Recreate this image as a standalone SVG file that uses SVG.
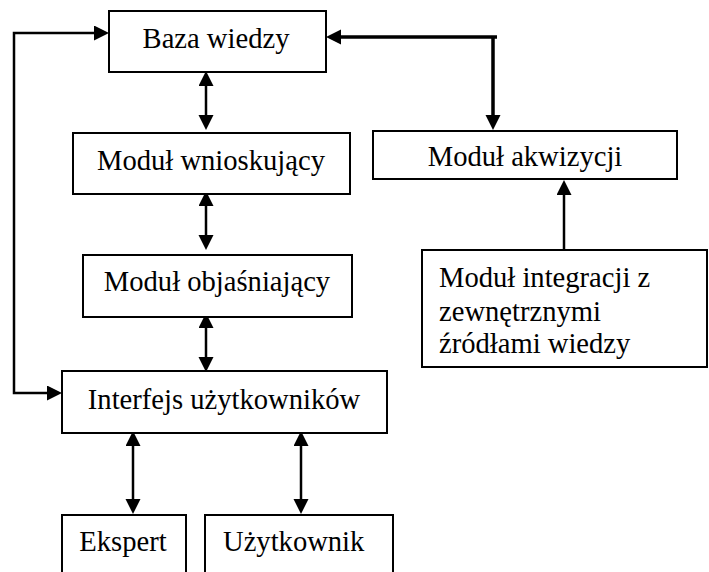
<svg xmlns="http://www.w3.org/2000/svg" width="709" height="572" viewBox="0 0 709 572">
<style>
  .box { fill: #fff; stroke: #000; stroke-width: 2; }
  text { font-family: "Liberation Serif", "Times New Roman", serif; font-size: 28.6px; fill: #000; }
  .c { text-anchor: middle; }
  .ln { fill: none; stroke: #000; stroke-width: 2.5; }
  .thick { fill: none; stroke: #000; stroke-width: 3.5; }
</style>
<defs>
  <marker id="ah" markerUnits="userSpaceOnUse" markerWidth="16" markerHeight="16" refX="9" refY="7.5" orient="auto-start-reverse">
    <path d="M0,0 L15,7.5 L0,15 z" fill="#000"/>
  </marker>
</defs>
<rect width="709" height="572" fill="#fff"/>
<g id="connectors">
  <path class="ln" d="M206,77 L206,124" marker-start="url(#ah)" marker-end="url(#ah)"/>
  <path class="ln" d="M206,197 L206,244" marker-start="url(#ah)" marker-end="url(#ah)"/>
  <path class="ln" d="M206,319 L206,366" marker-start="url(#ah)" marker-end="url(#ah)"/>
  <path class="ln" d="M133,437 L133,508" marker-start="url(#ah)" marker-end="url(#ah)"/>
  <path class="ln" d="M301,437 L301,508" marker-start="url(#ah)" marker-end="url(#ah)"/>
  <path class="ln" d="M103,33 L14,33 L14,393 L56,393" marker-start="url(#ah)" marker-end="url(#ah)"/>
  <path class="thick" d="M493,124 L493,37 L497,37 M493,37 L332,37" marker-start="url(#ah)" marker-end="url(#ah)"/>
  <path class="ln" d="M564,250 L564,186" marker-end="url(#ah)"/>
</g>
<g id="baza">
  <rect class="box" x="109" y="11" width="217" height="61"/>
  <text class="c" x="216" y="48" font-family="Liberation Serif">Baza wiedzy</text>
</g>
<g id="wnioskujacy">
  <rect class="box" x="73" y="133" width="277" height="61"/>
  <text class="c" x="211" y="170" font-family="Liberation Serif">Moduł wnioskujący</text>
</g>
<g id="objasniajacy">
  <rect class="box" x="83" y="255" width="269" height="62"/>
  <text class="c" x="217" y="291" font-family="Liberation Serif">Moduł objaśniający</text>
</g>
<g id="interfejs">
  <rect class="box" x="62" y="371" width="325" height="62"/>
  <text class="c" x="224" y="409" font-family="Liberation Serif">Interfejs użytkowników</text>
</g>
<g id="akwizycji">
  <rect class="box" x="373" y="131" width="304" height="48"/>
  <text class="c" x="525" y="166" font-family="Liberation Serif">Moduł akwizycji</text>
</g>
<g id="integracji">
  <rect class="box" x="422" y="250" width="285" height="117"/>
  <text x="439" y="287" font-family="Liberation Serif">Moduł integracji z</text>
  <text x="439" y="321" font-family="Liberation Serif">zewnętrznymi</text>
  <text x="439" y="353" font-family="Liberation Serif">źródłami wiedzy</text>
</g>
<g id="ekspert">
  <rect class="box" x="62" y="515" width="124" height="70"/>
  <text class="c" x="123" y="551" font-family="Liberation Serif">Ekspert</text>
</g>
<g id="uzytkownik">
  <rect class="box" x="205" y="515" width="188" height="70"/>
  <text x="223" y="551" font-family="Liberation Serif">Użytkownik</text>
</g>
</svg>
